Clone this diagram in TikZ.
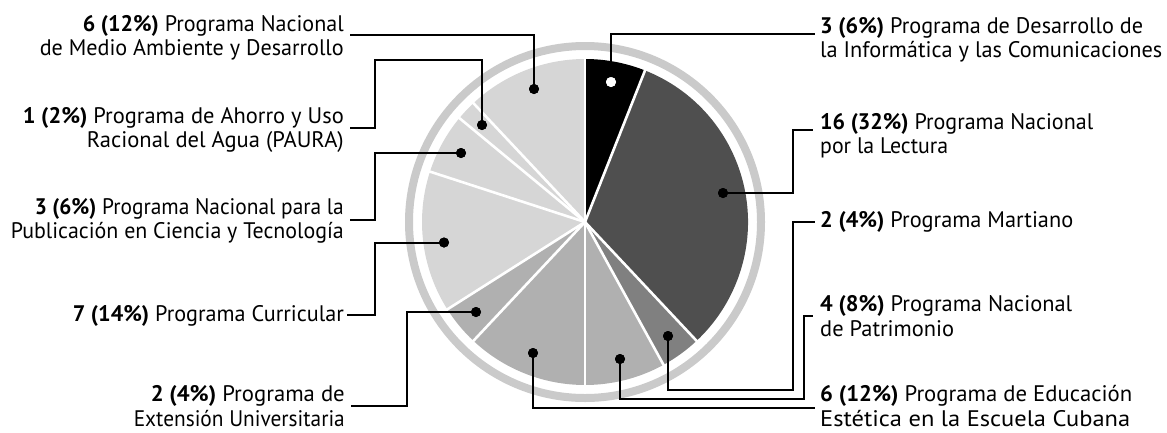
\documentclass[tikz,border=0pt]{standalone}
\usepackage{graphicx}
\usepackage{fontspec}
\setmainfont{PT Sans}
\definecolor{cblack}{HTML}{000000}
\definecolor{cdark}{HTML}{4F4F4F}
\definecolor{cmid}{HTML}{808080}
\definecolor{clight}{HTML}{B0B0B0}
\definecolor{cpale}{HTML}{D6D6D6}
\definecolor{cring}{HTML}{CACACA}
\newcommand{\pieslice}[3]{\fill[#3] (C) -- ++(#1:163) arc[start angle=#1, end angle=#2, radius=163] -- cycle;}
\newcommand{\fw}[2]{\resizebox{#1pt}{\height}{#2}}
\begin{document}
\begin{tikzpicture}[x=1pt,y=1pt,yscale=-1,
  conn/.style={line width=2pt, line join=miter},
  dotb/.style={circle, fill=black, inner sep=0pt, minimum size=10pt},
  dotw/.style={circle, fill=white, inner sep=0pt, minimum size=10pt},
  lab/.style={inner sep=0pt, font=\fontsize{22.5}{24.5}\selectfont},
  sepline/.style={white, line width=2.6pt}]
\useasboundingbox (0,0) rectangle (1167,432);
\coordinate (C) at (585,222);
% ring
\draw[cring, line width=8pt] (C) circle[radius=176];
% slices
\pieslice{-90}{-68.4}{cblack}
\pieslice{-68.4}{46.8}{cdark}
\pieslice{46.8}{61.2}{cmid}
\pieslice{61.2}{90}{clight}
\pieslice{90}{133.2}{clight}
\pieslice{133.2}{147.6}{clight}
\pieslice{147.6}{198}{cpale}
\pieslice{198}{219.6}{cpale}
\pieslice{219.6}{226.8}{cpale}
\pieslice{226.8}{270}{cpale}
\foreach \a in {-90,-68.4,46.8,61.2,90,133.2,147.6,198,219.6,226.8}
  \draw[sepline] (C) -- ++(\a:165);
% labels right
\node[lab, anchor=base west] (lInfo) at (820,33) {\begin{tabular}[t]{@{}l@{}}\fw{323}{\textbf{3 (6\%)} Programa de Desarrollo de}\\\fw{342}{la Informática y las Comunicaciones}\end{tabular}};
\node[lab, anchor=base west] (lLect) at (820,129) {\begin{tabular}[t]{@{}l@{}}\fw{273}{\textbf{16 (32\%)} Programa Nacional}\\\fw{128}{por la Lectura}\end{tabular}};
\node[lab, anchor=base west] (lMart) at (820,227) {\fw{253}{\textbf{2 (4\%)} Programa Martiano}};
\node[lab, anchor=base west] (lPatr) at (820,311.5) {\begin{tabular}[t]{@{}l@{}}\fw{252}{\textbf{4 (8\%)} Programa Nacional}\\\fw{134}{de Patrimonio}\end{tabular}};
\node[lab, anchor=base west] (lEst) at (820,401.5) {\begin{tabular}[t]{@{}l@{}}\fw{312}{\textbf{6 (12\%)} Programa de Educación}\\\fw{310}{Estética en la Escuela Cubana}\end{tabular}};
% labels left
\node[lab, anchor=base east] (lMA) at (344,31) {\begin{tabular}[t]{@{}r@{}}\fw{261}{\textbf{6 (12\%)} Programa Nacional}\\\fw{304}{de Medio Ambiente y Desarrollo}\end{tabular}};
\node[lab, anchor=base east] (lPau) at (344,123) {\begin{tabular}[t]{@{}r@{}}\fw{321}{\textbf{1 (2\%)} Programa de Ahorro y Uso}\\\fw{257}{Racional del Agua (PAURA)}\end{tabular}};
\node[lab, anchor=base east] (lPub) at (344,214) {\begin{tabular}[t]{@{}r@{}}\fw{309}{\textbf{3 (6\%)} Programa Nacional para la}\\\fw{333}{Publicación en Ciencia y Tecnología}\end{tabular}};
\node[lab, anchor=base east] (lCur) at (344,321) {\fw{271}{\textbf{7 (14\%)} Programa Curricular}};
\node[lab, anchor=base east] (lExt) at (345,401.5) {\begin{tabular}[t]{@{}r@{}}\fw{194}{\textbf{2 (4\%)} Programa de}\\\fw{211}{Extensión Universitaria}\end{tabular}};
% connector ends
\coordinate (eInfo) at (815,34);
\coordinate (eLect) at (813,130);
\coordinate (eMart) at (815,222);
\coordinate (ePatr) at (813,316);
\coordinate (eEst) at (815,408);
\coordinate (eMA) at (350,35);
\coordinate (ePau) at (350,128);
\coordinate (ePub) at (350,220);
\coordinate (eCur) at (347,315);
\coordinate (eExt) at (351,406);
% dots
\node[dotw] (dInfo) at (611,82) {};
\node[dotb] (dLect) at (723,193) {};
\node[dotb] (dMart) at (668,336) {};
\node[dotb] (dPatr) at (620,359) {};
\node[dotb] (dEst) at (533,353) {};
\node[dotb] (dExt) at (476,312) {};
\node[dotb] (dCur) at (444,242.5) {};
\node[dotb] (dPub) at (461,153) {};
\node[dotb] (dPau) at (482,125) {};
\node[dotb] (dMA) at (534,89) {};
% connectors
\draw[conn] (dInfo.center) |- (eInfo);
\draw[conn] (dLect.center) -| (793,130) -- (eLect);
\draw[conn] (dMart.center) |- (793,390) |- (eMart);
\draw[conn] (dPatr.center) |- (804,399) |- (ePatr);
\draw[conn] (dEst.center) |- (eEst);
\draw[conn] (dMA.center) |- (eMA);
\draw[conn] (dPau.center) |- (375,60) |- (ePau);
\draw[conn] (dPub.center) -| (375,220) -- (ePub);
\draw[conn] (dCur.center) -| (375,315) -- (eCur);
\draw[conn] (dExt.center) -| (407,406) -- (eExt);
% redraw dots on top
\node[dotw] at (dInfo) {};
\foreach \d in {dLect,dMart,dPatr,dEst,dExt,dCur,dPub,dPau,dMA}
  \node[dotb] at (\d) {};
\end{tikzpicture}
\end{document}
